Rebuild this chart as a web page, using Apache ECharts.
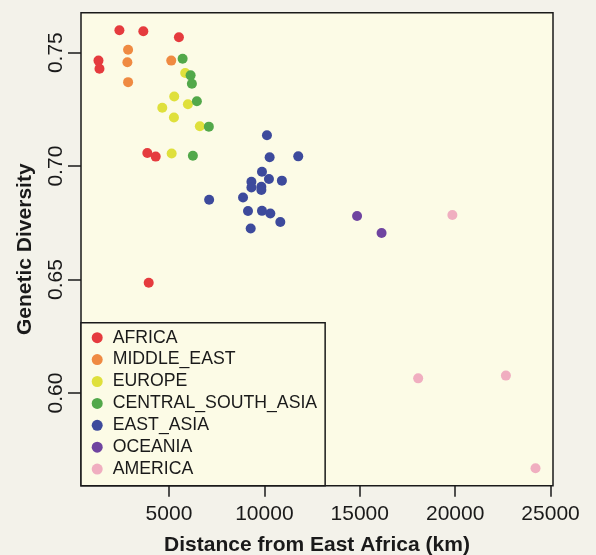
<!DOCTYPE html>
<html>
<head>
<meta charset="utf-8">
<script src="https://cdn.jsdelivr.net/npm/echarts@6/dist/echarts.min.js"></script>
<style>
  html, body { margin: 0; padding: 0; background: #f3f2ea; }
  #chart { width: 596px; height: 555px; }
</style>
</head>
<body>
<div id="chart"></div>
<script>
// Distance from East Africa (km), Genetic Diversity
const africa = [[2403,0.7599],[3657,0.7594],[5522,0.7568],[1306,0.7465],[1358,0.7429],[3866,0.7058],[4305,0.7042],[3939,0.6486]];
const middleEast = [[2858,0.7513],[2821,0.7458],[2858,0.7370],[5120,0.7465]];
const europe = [[5852,0.7410],[5277,0.7307],[4650,0.7257],[5993,0.7273],[5261,0.7214],[6620,0.7176],[5141,0.7056]];
const centralSouthAsia = [[5716,0.7473],[6134,0.7400],[6202,0.7363],[6463,0.7286],[7090,0.7174],[6254,0.7046]];
const eastAsia = [[10136,0.7136],[10277,0.7039],[11776,0.7043],[9875,0.6975],[10240,0.6943],[10919,0.6936],[9321,0.6931],[9843,0.6909],[9321,0.6906],[9843,0.6895],[8882,0.6862],[7106,0.6852],[9143,0.6802],[9875,0.6803],[10313,0.6791],[10836,0.6754],[9284,0.6725]];
const oceania = [[14859,0.6780],[16144,0.6705]];
const america = [[19854,0.6785],[18062,0.6065],[22659,0.6077],[24212,0.5669]];

const regionNames = ['AFRICA','MIDDLE_EAST','EUROPE','CENTRAL_SOUTH_ASIA','EAST_ASIA','OCEANIA','AMERICA'];
const regionData = [africa, middleEast, europe, centralSouthAsia, eastAsia, oceania, america];
const regionColors = ['#e53b3e','#ef8a42','#dfe03c','#52a84a','#3d4a9c','#6f44a0','#f0aec0'];

const xTicks = [5000, 10000, 15000, 20000, 25000];
const yTicks = [0.60, 0.65, 0.70, 0.75];

const ink = '#1a1a1a';
const font = '"Liberation Sans", Arial, Helvetica, sans-serif';

const chart = echarts.init(document.getElementById('chart'), null, {renderer: 'canvas'});
chart.setOption({
  animation: false,
  backgroundColor: '#f3f2ea',
  textStyle: { fontFamily: font },
  grid: {
    left: 81, top: 12.7, right: 43, bottom: 69.3,
    outerBoundsMode: 'none', containLabel: false,
    show: true, backgroundColor: '#fcfbe6', borderColor: ink, borderWidth: 1.5
  },
  xAxis: {
    type: 'value', min: 390, max: 25128,
    name: 'Distance from East Africa (km)', nameLocation: 'middle', nameGap: 49.5,
    nameTextStyle: { fontSize: 21, fontWeight: 'bold', color: ink, fontFamily: font },
    axisLine: { show: false },
    splitLine: { show: false },
    axisTick: { show: true, customValues: xTicks, length: 11, lineStyle: { color: ink, width: 1.5 } },
    axisLabel: { customValues: xTicks, fontSize: 21, color: ink, margin: 18, fontFamily: font,
      formatter: v => String(v) }
  },
  yAxis: {
    type: 'value', min: 0.5592, max: 0.7676,
    name: 'Genetic Diversity', nameLocation: 'middle', nameGap: 45,
    nameTextStyle: { fontSize: 21, fontWeight: 'bold', color: ink, fontFamily: font },
    axisLine: { show: false },
    splitLine: { show: false },
    axisTick: { show: true, customValues: yTicks, length: 13, lineStyle: { color: ink, width: 1.5 } },
    axisLabel: { customValues: yTicks, fontSize: 21, color: ink, margin: 14, rotate: 90, fontFamily: font,
      formatter: v => Number(v).toFixed(2) }
  },
  legend: {
    show: true, orient: 'vertical', left: 81, top: 322.7,
    data: regionNames,
    icon: 'circle', itemWidth: 21, itemHeight: 11, itemGap: 1.9,
    padding: [5, 8, 6.7, 10.7],
    backgroundColor: '#fcfbe6', borderColor: ink, borderWidth: 1.5, borderRadius: 0,
    selectedMode: false,
    textStyle: { fontSize: 17.7, color: ink, lineHeight: 20, fontFamily: font },
    z: 10
  },
  series: regionNames.map((name, i) => ({
    name: name,
    type: 'scatter',
    data: regionData[i],
    symbol: 'circle',
    symbolSize: 10,
    itemStyle: { color: regionColors[i], opacity: 1 },
    emphasis: { disabled: true }
  }))
});
</script>
</body>
</html>
